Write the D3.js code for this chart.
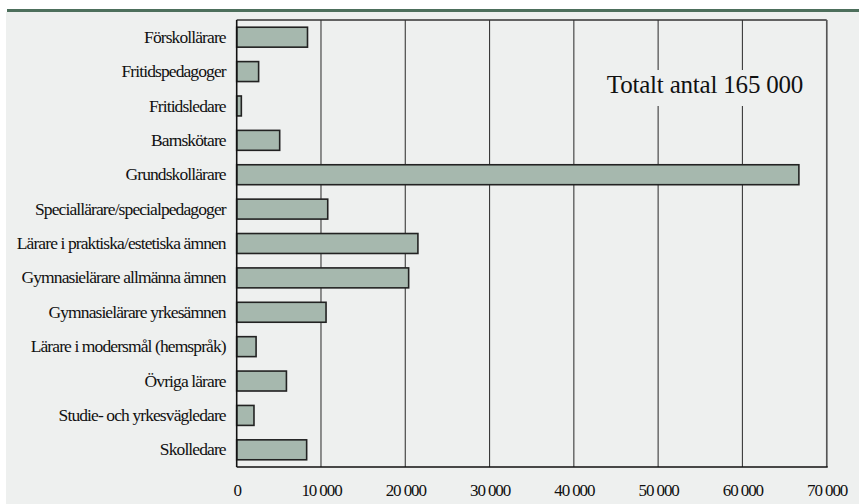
<!DOCTYPE html>
<html><head><meta charset="utf-8">
<script src="https://cdn.jsdelivr.net/npm/d3@7"></script>
<style>
html,body{margin:0;padding:0;background:#fff;}
svg{display:block;}
</style></head>
<body>
<svg id="c" width="859" height="504"></svg>
<script>
const categories = ["Förskollärare","Fritidspedagoger","Fritidsledare","Barnskötare","Grundskollärare","Speciallärare/specialpedagoger","Lärare i praktiska/estetiska ämnen","Gymnasielärare allmänna ämnen","Gymnasielärare yrkesämnen","Lärare i modersmål (hemspråk)","Övriga lärare","Studie- och yrkesvägledare","Skolledare"];
const values = [8400,2600,550,5100,66700,10800,21500,20400,10600,2300,5900,2050,8300];
const tickValues = [0,10000,20000,30000,40000,50000,60000,70000];
const tickLabels = ["0","10 000","20 000","30 000","40 000","50 000","60 000","70 000"];
const annotation = "Totalt antal 165 000";

const svg = d3.select("#c");
const W = 859, H = 504;
const L = 236.7, R = 826.7, T = 20, B = 467;

svg.append("rect").attr("x",6).attr("y",12).attr("width",W-6).attr("height",H-12).attr("fill","#eef0ef");
svg.append("rect").attr("x",7).attr("y",9).attr("width",W-7).attr("height",3).attr("fill","#4d6f5c");

const x = d3.scaleLinear().domain([0,70000]).range([L,R]);
const y = d3.scaleBand().domain(categories).range([T,B]).paddingInner(0.42).paddingOuter(0.21);

const g = svg.append("g");
g.selectAll("line.grid").data(tickValues.slice(1)).join("line")
  .attr("x1",d=>x(d)).attr("x2",d=>x(d)).attr("y1",T).attr("y2",B)
  .attr("stroke","#3a3a3a").attr("stroke-width",1.1);
g.append("line").attr("x1",L).attr("x2",R).attr("y1",T).attr("y2",T).attr("stroke","#333").attr("stroke-width",1.3);
g.append("line").attr("x1",R).attr("x2",R).attr("y1",T).attr("y2",B).attr("stroke","#555").attr("stroke-width",1.5);

const ann = g.append("g");
ann.append("rect").attr("x",598).attr("y",70).attr("width",214).attr("height",36).attr("fill","#eef0ef");
ann.append("text").attr("x",705).attr("y",93).attr("text-anchor","middle")
  .attr("font-family","Liberation Serif, serif").attr("font-size",25).attr("letter-spacing",-0.2)
  .attr("fill","#111").text(annotation);

g.selectAll("rect.bar").data(values).join("rect").attr("class","bar")
  .attr("x",x(0)).attr("y",(d,i)=>y(categories[i]))
  .attr("width",d=>x(d)-x(0)).attr("height",y.bandwidth())
  .attr("fill","#a6b8ae").attr("stroke","#222").attr("stroke-width",1.6);

g.append("line").attr("x1",L).attr("x2",L).attr("y1",T).attr("y2",B).attr("stroke","#111").attr("stroke-width",1.6);
g.append("line").attr("x1",L).attr("x2",R+1).attr("y1",B).attr("y2",B).attr("stroke","#111").attr("stroke-width",1.6);

const yAxis = d3.axisLeft(y).tickSize(0).tickPadding(11);
const ya = g.append("g").attr("transform",`translate(${L},0)`).call(yAxis);
ya.select(".domain").remove();
ya.selectAll("text").attr("font-family","Liberation Serif, serif").attr("font-size",17.5)
  .attr("letter-spacing",-0.9).attr("fill","#111");

const xAxis = d3.axisBottom(x).tickValues(tickValues).tickFormat((d,i)=>tickLabels[i]).tickSize(0).tickPadding(17);
const xa = g.append("g").attr("transform",`translate(0,${B})`).call(xAxis);
xa.select(".domain").remove();
xa.selectAll("text").attr("font-family","Liberation Serif, serif").attr("font-size",17)
  .attr("letter-spacing",-1.1).attr("fill","#111");
</script>
</body></html>
